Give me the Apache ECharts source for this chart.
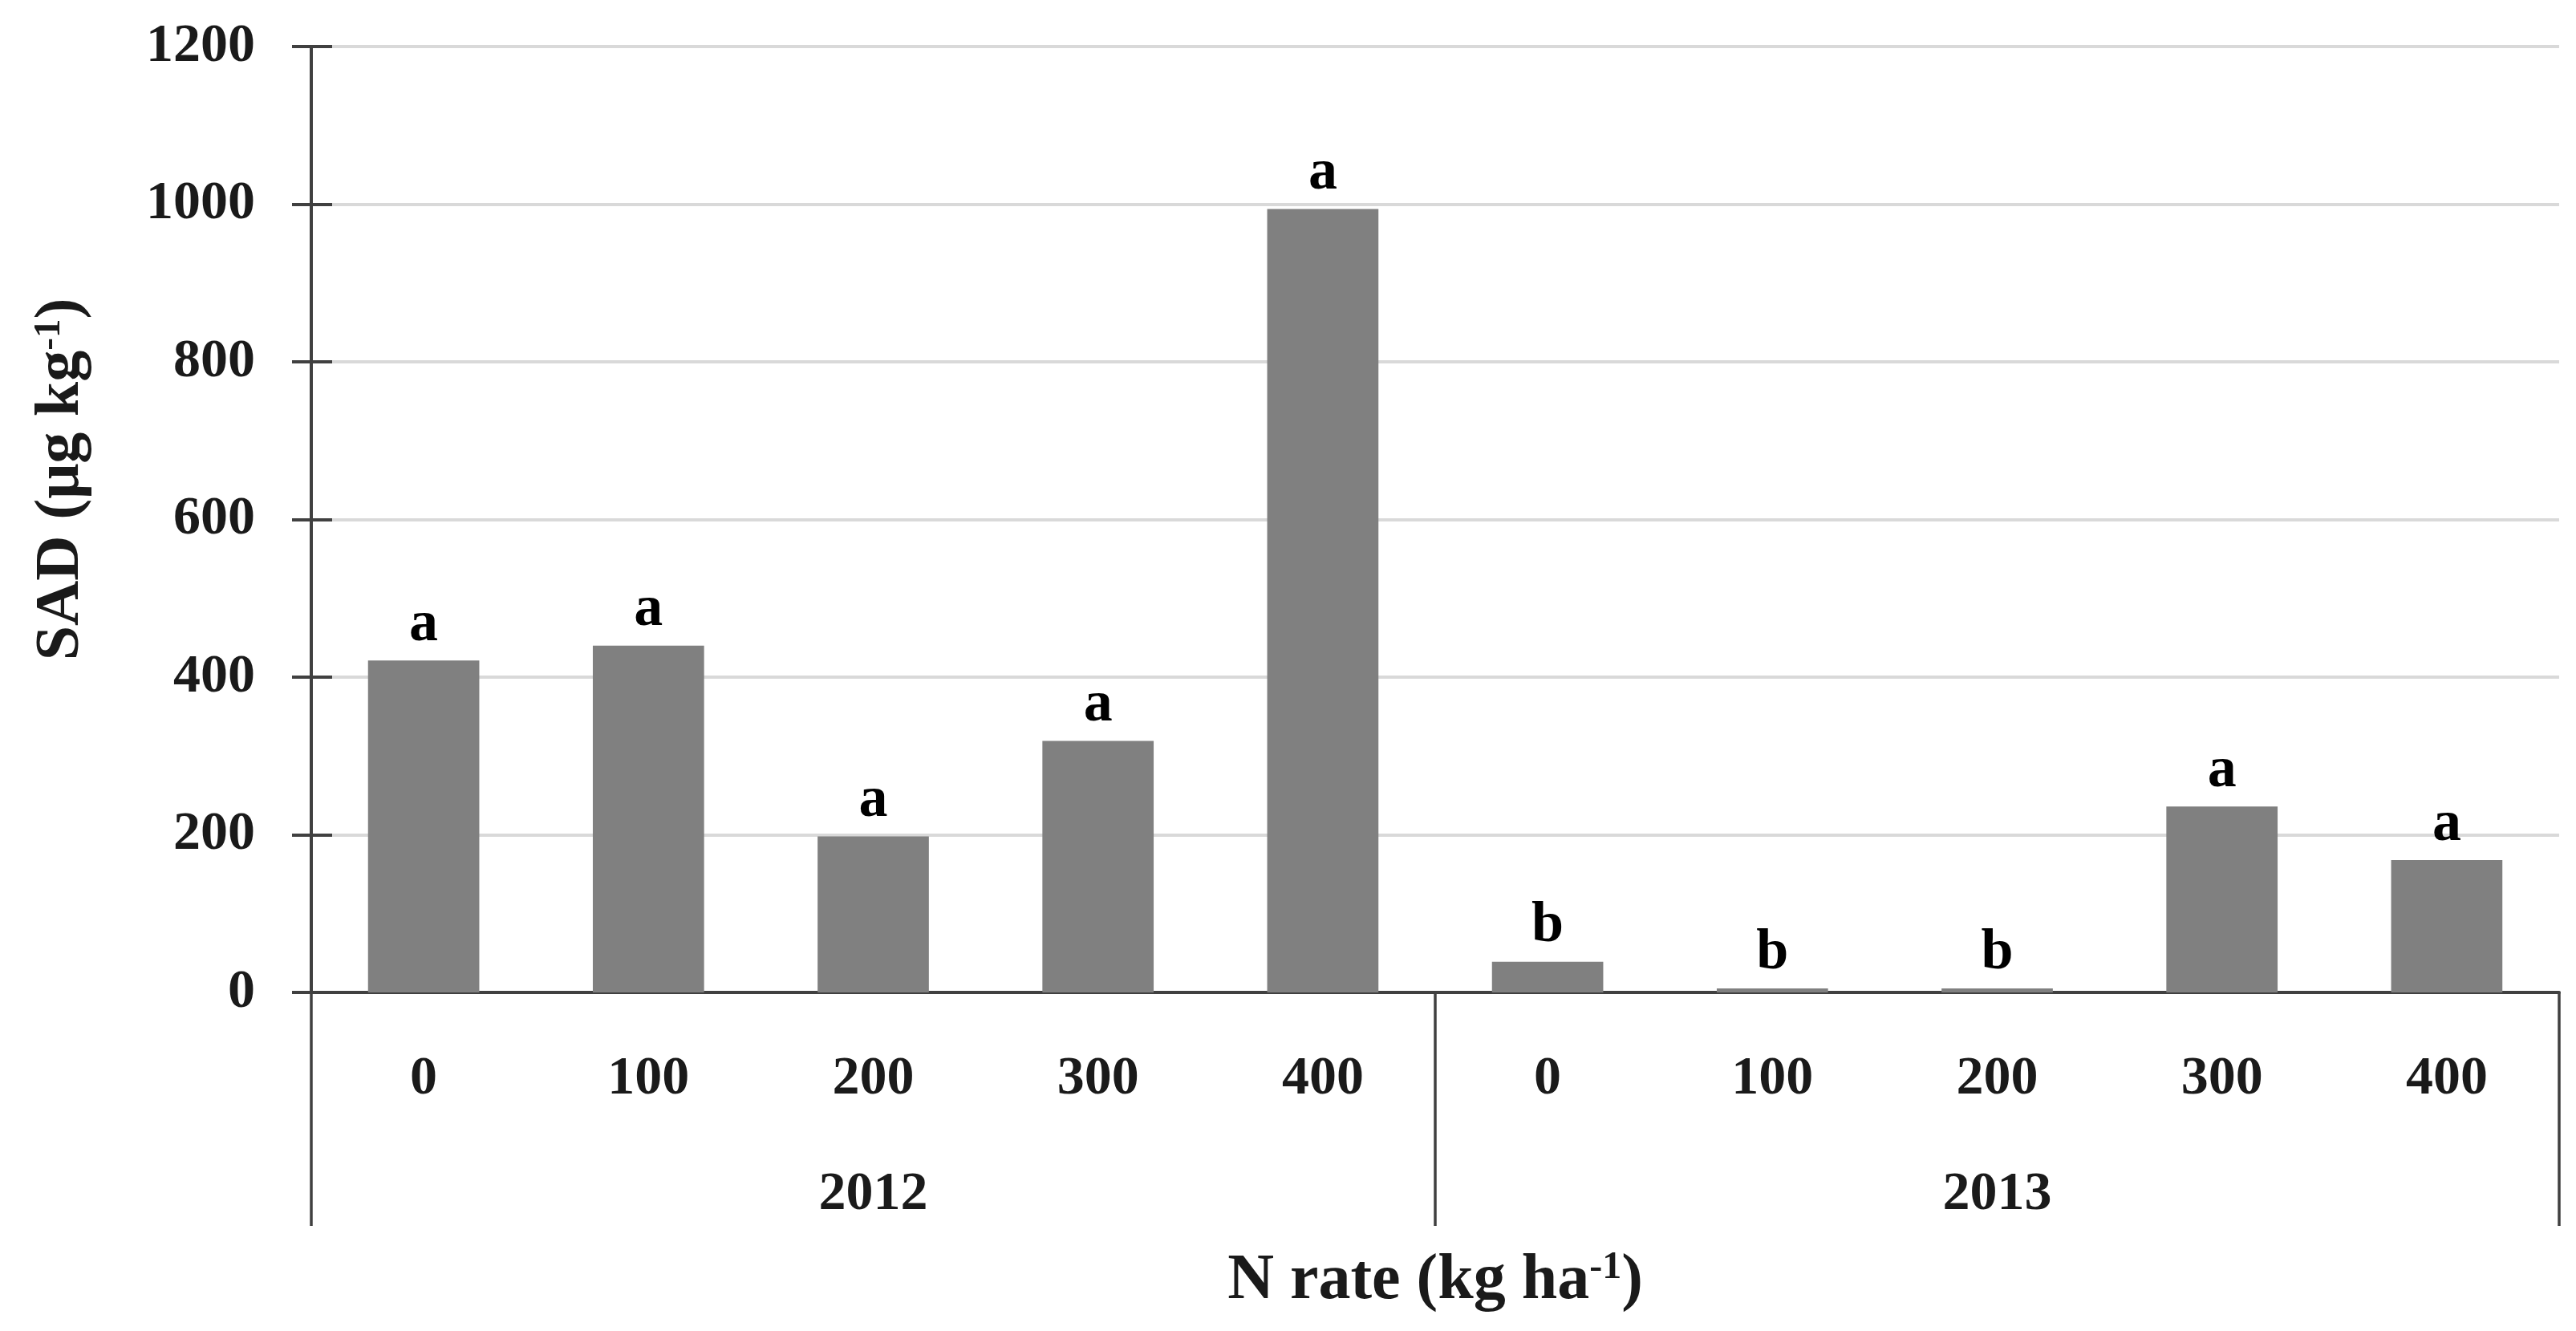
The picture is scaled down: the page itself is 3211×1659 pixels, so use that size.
<!DOCTYPE html>
<html>
<head>
<meta charset="utf-8">
<script src="https://cdn.jsdelivr.net/npm/echarts@6/dist/echarts.min.js"></script>
<style>
  html, body { margin: 0; padding: 0; background: #ffffff; }
  #chart { width: 3211px; height: 1659px; }
</style>
</head>
<body>
<div id="chart"></div>
<script>
// ---- data ----
const categories = ['0', '100', '200', '300', '400', '0', '100', '200', '300', '400'];
const years = ['2012', '2013'];
const sadValues = [421, 440, 198, 319, 994, 39, 5, 5, 236, 168];
const letters = ['a', 'a', 'a', 'a', 'a', 'b', 'b', 'b', 'a', 'a'];
const yMin = 0, yMax = 1200, yStep = 200;

const FONT = '"Liberation Serif", "DejaVu Serif", serif';
const AXIS_COLOR = '#404040';
const TEXT_COLOR = '#1a1a1a';

const chart = echarts.init(document.getElementById('chart'));
chart.setOption({
  animation: false,
  backgroundColor: '#ffffff',
  grid: { left: 388, right: 21, top: 58, bottom: 422, containLabel: false },
  xAxis: [
    {
      type: 'category',
      data: categories,
      position: 'bottom',
      axisLine: { show: true, lineStyle: { color: AXIS_COLOR, width: 4 } },
      axisTick: { show: false },
      axisLabel: {
        margin: 74, fontFamily: FONT, fontWeight: 'bold', fontSize: 68, color: TEXT_COLOR
      },
      splitLine: { show: false }
    },
    {
      type: 'category',
      data: years,
      position: 'bottom',
      axisLine: { show: false },
      axisTick: { show: true, length: 291, lineStyle: { color: AXIS_COLOR, width: 3.5 } },
      axisLabel: {
        margin: 218, fontFamily: FONT, fontWeight: 'bold', fontSize: 68, color: TEXT_COLOR
      },
      splitLine: { show: false },
      name: 'N rate (kg ha{sup|-1})',
      nameLocation: 'middle',
      nameGap: 320,
      nameTextStyle: {
        fontFamily: FONT, fontWeight: 'bold', fontSize: 80, color: TEXT_COLOR,
        rich: {
          sup: { fontFamily: FONT, fontWeight: 'bold', fontSize: 48, color: TEXT_COLOR, verticalAlign: 'top' }
        }
      }
    }
  ],
  yAxis: [
    {
      type: 'value',
      min: yMin, max: yMax, interval: yStep,
      position: 'left',
      axisLine: { show: true, lineStyle: { color: AXIS_COLOR, width: 4 } },
      axisTick: { show: true, inside: false, length: 24, lineStyle: { color: AXIS_COLOR, width: 4 } },
      axisLabel: {
        margin: 70, fontFamily: FONT, fontWeight: 'bold', fontSize: 68, color: TEXT_COLOR,
        formatter: v => String(v)
      },
      splitLine: { show: true, lineStyle: { color: '#d9d9d9', width: 4 } },
      name: 'SAD (μg kg{sup|-1})',
      nameLocation: 'middle',
      nameGap: 272,
      nameRotate: 90,
      nameTextStyle: {
        fontFamily: FONT, fontWeight: 'bold', fontSize: 78, color: TEXT_COLOR,
        padding: [0, 0, 0, 100],
        rich: {
          sup: { fontFamily: FONT, fontWeight: 'bold', fontSize: 47, color: TEXT_COLOR, verticalAlign: 'top' }
        }
      }
    },
    {
      type: 'value',
      min: yMin, max: yMax, interval: yStep,
      position: 'left',
      axisLine: { show: false },
      axisTick: { show: true, inside: true, length: 26, lineStyle: { color: AXIS_COLOR, width: 4 } },
      axisLabel: { show: false },
      splitLine: { show: false }
    }
  ],
  series: [
    {
      type: 'bar',
      xAxisIndex: 0,
      yAxisIndex: 0,
      data: sadValues,
      barWidth: '49.5%',
      itemStyle: { color: '#808080' },
      label: {
        show: true,
        position: 'top',
        distance: 8,
        formatter: p => letters[p.dataIndex],
        fontFamily: FONT, fontWeight: 'bold', fontSize: 72, color: '#000000'
      }
    }
  ]
});
</script>
</body>
</html>
